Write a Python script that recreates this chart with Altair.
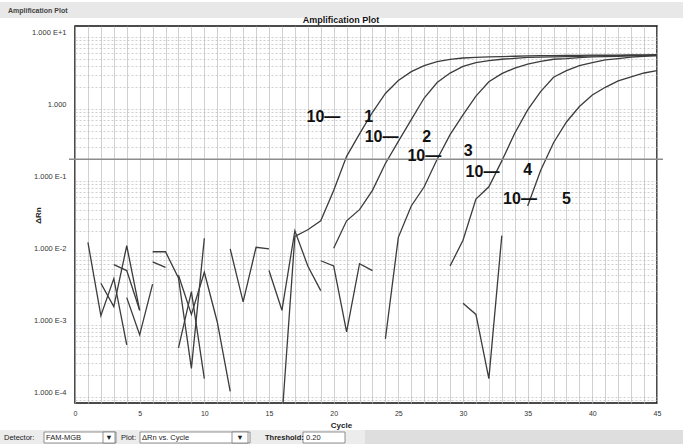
import altair as alt
import pandas as pd

# ---- data -------------------------------------------------------------
cycles = list(range(1, 46))

# Delta Rn per cycle for the five tenfold dilutions.
# None = no positive reading at that cycle (cannot be drawn on the log axis).
drn_dil1 = [0.014, 0.00135, 0.0044, 0.00053, None, 0.0104, 0.0104, 0.0045, 0.00025, 0.016,
            None, None, None, None, None, 0.00005, 0.017, 0.021, 0.028, 0.074,
            0.22, 0.45, 0.90, 1.64, 2.48, 3.3, 4.0, 4.55, 4.9, 5.1,
            5.2, 5.3, 5.35, 5.4, 5.45, 5.5, 5.5, 5.55, 5.55, 5.6,
            5.6, 5.6, 5.65, 5.65, 5.7]
drn_dil2 = [None, 0.0038, 0.0018, 0.0126, 0.0016, None, None, 0.00048, 0.0029, 0.00018,
            None, 0.0114, 0.0021, 0.012, 0.0114, None, None, None, None, 0.0116,
            0.028, 0.040, 0.074, 0.175, 0.355, 0.71, 1.42, 2.33, 3.15, 3.9,
            4.4, 4.7, 4.9, 5.05, 5.2, 5.25, 5.3, 5.35, 5.4, 5.45,
            5.5, 5.5, 5.55, 5.55, 5.6]
drn_dil3 = [None, None, 0.0069, 0.0057, 0.0016, None, None, 0.0049, 0.0014, 0.0054,
            0.0011, 0.00012, None, None, 0.0057, 0.0016, 0.0204, 0.0066, 0.0030, None,
            None, None, None, 0.00064, 0.0165, 0.045, 0.083, 0.20, 0.44, 0.83,
            1.51, 2.39, 3.1, 3.7, 4.2, 4.57, 4.9, 5.0, 5.15, 5.3,
            5.35, 5.4, 5.45, 5.5, 5.5]
drn_dil4 = [None, None, None, 0.0024, 0.00073, 0.0037, None, None, None, None,
            None, None, None, None, None, None, None, None, 0.0078, 0.0066,
            0.0008, 0.0071, 0.0057, None, None, None, None, None, 0.0066, 0.015,
            0.056, 0.083, 0.19, 0.46, 0.97, 1.74, 2.76, 3.4, 4.0, 4.4,
            4.8, 5.0, 5.25, 5.4, 5.5]
drn_dil5 = [None, None, None, None, None, 0.0075, 0.0063, None, None, None,
            None, None, None, None, None, None, None, None, None, None,
            None, None, None, None, None, None, None, None, None, 0.0020,
            0.0014, 0.00018, 0.0174, None, 0.045, 0.14, 0.34, 0.66, 1.08, 1.56,
            2.0, 2.46, 2.8, 3.16, 3.4]

threshold = 0.20

# dilution labels: exponent, where "10—" starts and its height,
# where the exponent sits and its height
label_exp = ["1", "2", "3", "4", "5"]
label_prefix_cycle = [17.9, 22.4, 25.7, 30.2, 33.1]
label_prefix_level = [0.77, 0.41, 0.22, 0.134, 0.056]
label_digit_cycle = [22.7, 27.2, 30.4, 35.0, 38.0]
label_digit_level = [0.77, 0.41, 0.26, 0.14, 0.056]

# axis ticks
x_ticks = list(range(0, 46))
y_ticks = [m * 10.0 ** k for k in range(-5, 2) for m in range(1, 10)]
y_ticks = [v for v in y_ticks if 8.25e-5 <= v <= 14.2]

# ---- long table, split into drawable runs --------------------------------
rows = []
run_id = 0
for name, series in [("1", drn_dil1), ("2", drn_dil2), ("3", drn_dil3),
                     ("4", drn_dil4), ("5", drn_dil5)]:
    assert len(series) == len(cycles)
    prev = None
    for c, v in zip(cycles, series):
        if v is None:
            prev = None
            continue
        if prev is None:
            run_id += 1
        rows.append({"dilution": name, "run": run_id, "cycle": c, "drn": v})
        prev = v
df = pd.DataFrame(rows)

labels = pd.DataFrame({
    "exp": label_exp,
    "c0": label_prefix_cycle,
    "l0": label_prefix_level,
    "c1": label_digit_cycle,
    "l1": label_digit_level,
})
one = pd.DataFrame({"k": [0]})

W, H = 582, 377
FONT = "Liberation Sans"

x_scale = alt.Scale(domain=[0, 45], nice=False, zero=False)
y_scale = alt.Scale(type="log", domain=[8.25e-5, 14.2], nice=False)

y_label_expr = (
    "abs(log(datum.value)/LN10 - round(log(datum.value)/LN10)) < 0.01 ? "
    "(datum.value > 5 ? '1.000 E+1' : (datum.value > 0.5 ? '1.000' : "
    "'1.000 E-' + round(-log(datum.value)/LN10))) : ''"
)

x_axis = alt.Axis(
    values=x_ticks, labelExpr="datum.value % 5 == 0 ? '' + datum.value : ''",
    labelOverlap=False, labelFlush=False, labelBound=False,
    grid=True, gridColor="#bdbdbd", gridWidth=0.7, ticks=False, domain=False,
    labelFontSize=7, labelColor="#333", labelPadding=6, labelFont=FONT,
    title="Cycle", titleFontSize=8, titleFontWeight="bold", titleFont=FONT,
    titleX=266, titleY=22, titleBaseline="middle", titleColor="#222",
)
y_axis = alt.Axis(
    values=y_ticks, labelExpr=y_label_expr, labelOverlap=False, labelFlush=False,
    labelBaseline="bottom",
    grid=True, gridColor="#b0b0b0", gridWidth=0.6, gridDash=[2, 2],
    ticks=False, domain=False,
    labelFontSize=7.5, labelColor="#333", labelPadding=9, labelFont=FONT,
    title="ΔRn", titleFontSize=8, titleFontWeight="bold", titleFont=FONT,
    titleX=-37, titleY=189, titleAngle=270, titleAlign="center",
    titleBaseline="middle", titleColor="#222",
)

# amplification curves
curves = alt.Chart(df).mark_line(
    clip=True, color="#3c3c3c", strokeWidth=1.3
).encode(
    x=alt.X("cycle:Q", scale=x_scale, axis=x_axis),
    y=alt.Y("drn:Q", scale=y_scale, axis=y_axis),
    detail="run:N",
    order="cycle:Q",
)

# threshold line
thr = alt.Chart(pd.DataFrame({"t": [threshold]})).mark_rule(
    color="#8c8c8c", strokeWidth=1.6
).encode(y=alt.Y("t:Q", scale=y_scale, axis=y_axis),
         x=alt.value(-6), x2=alt.value(W + 6))

# dilution annotations
txt_style = dict(font=FONT, fontSize=16, fontWeight="bold", color="#111", baseline="middle")
prefix = alt.Chart(labels).mark_text(align="left", **txt_style).encode(
    x=alt.X("c0:Q", scale=x_scale, axis=x_axis),
    y=alt.Y("l0:Q", scale=y_scale, axis=y_axis),
    text=alt.value("10—"),
)
digit = alt.Chart(labels).mark_text(align="center", **txt_style).encode(
    x=alt.X("c1:Q", scale=x_scale, axis=x_axis),
    y=alt.Y("l1:Q", scale=y_scale, axis=y_axis),
    text="exp:N",
)

# window header / footer
header_band = alt.Chart(one).mark_rect(color="#e8e8e8").encode(
    x=alt.value(-75), x2=alt.value(W + 26), y=alt.value(-24), y2=alt.value(-8))
header_txt = alt.Chart(one).mark_text(
    align="left", baseline="middle", font=FONT, fontSize=7, fontWeight="bold", color="#444"
).encode(x=alt.value(-67), y=alt.value(-15), text=alt.value("Amplification Plot"))
plot_title = alt.Chart(one).mark_text(
    align="center", baseline="bottom", font=FONT, fontSize=9, fontWeight="bold", color="#111"
).encode(x=alt.value(266), y=alt.value(-1), text=alt.value("Amplification Plot"))

footer_band = alt.Chart(one).mark_rect(color="#ececec").encode(
    x=alt.value(-75), x2=alt.value(W + 26), y=alt.value(H + 27), y2=alt.value(H + 41))
footer_right = alt.Chart(one).mark_rect(color="#dedede").encode(
    x=alt.value(290), x2=alt.value(W + 26), y=alt.value(H + 27), y2=alt.value(H + 41))

boxes = pd.DataFrame({
    "x0": [-31, 28, 65, 157, 228],
    "x1": [41, 40, 175, 173, 270],
})
footer_boxes = alt.Chart(boxes).mark_rect(
    fill="white", stroke="#777", strokeWidth=0.8
).encode(
    x=alt.X("x0:Q", scale=None), x2="x1:Q",
    y=alt.value(H + 29), y2=alt.value(H + 40),
)
ftxt = dict(baseline="middle", font=FONT, fontSize=7.5, color="#222")
footer_items = [
    (-71, "Detector:", "left", "normal"), (-29, "FAM-MGB", "left", "normal"),
    (34, "▼", "center", "normal"),
    (46, "Plot:", "left", "normal"), (67, "ΔRn vs. Cycle", "left", "normal"),
    (165, "▼", "center", "normal"),
    (190, "Threshold:", "left", "bold"), (231, "0.20", "left", "normal"),
]
footer_txt = [
    alt.Chart(one).mark_text(align=a, fontWeight=fw, **ftxt).encode(
        x=alt.value(px), y=alt.value(H + 34.5), text=alt.value(t))
    for px, t, a, fw in footer_items
]

chart = alt.layer(
    curves, thr, prefix, digit,
    header_band, header_txt, plot_title,
    footer_band, footer_right, footer_boxes, *footer_txt,
).properties(
    width=W, height=H,
    autosize=alt.AutoSizeParams(type="none"),
    padding={"left": 75, "top": 26, "right": 26, "bottom": 41},
    background="white",
).configure_view(stroke="#111", strokeWidth=1.5)

chart.save("out.html", embed_options={"renderer": "svg", "actions": False})
